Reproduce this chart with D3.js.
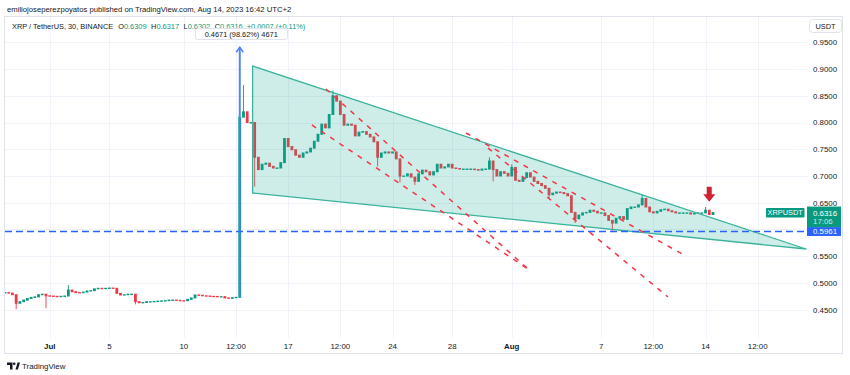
<!DOCTYPE html>
<html>
<head>
<meta charset="utf-8">
<script src="https://cdnjs.cloudflare.com/ajax/libs/d3/7.8.5/d3.min.js"></script>
<style>
body { margin: 0; background: #fff; }
svg { display: block; font-family: "Liberation Sans", Arial, sans-serif; }
</style>
</head>
<body>
<svg id="chart" width="850" height="375"></svg>
<script>
"use strict"

//
// Data read off the snapshot
//
var publishedLine = "emiliojoseperezpoyatos published on TradingView.com, Aug 14, 2023 16:42 UTC+2";
var legendTitle = "XRP / TetherUS, 30, BINANCE";
var legendKeys = ["O", "H", "L", "C"];
var legendValues = ["0.6309", "0.6317", "0.6302", "0.6316"];
var legendChange = "+0.0007 (+0.11%)";

var priceTicks = [0.45, 0.50, 0.55, 0.60, 0.65, 0.70, 0.75, 0.80, 0.85, 0.90, 0.95];
var timeTickDates = ["2023-07-01 00:00", "2023-07-05 00:00", "2023-07-10 00:00", "2023-07-13 12:00",
	"2023-07-17 00:00", "2023-07-20 12:00", "2023-07-24 00:00", "2023-07-28 00:00", "2023-08-01 00:00",
	"2023-08-07 00:00", "2023-08-10 12:00", "2023-08-14 00:00", "2023-08-17 12:00"];
var timeTickLabels = ["Jul", "5", "10", "12:00", "17", "12:00", "24", "28", "Aug", "7", "12:00", "14", "12:00"];
var monthLabels = ["Jul", "Aug"];

var xDomain = ["2023-06-28 00:00", "2023-08-20 21:00"];
var yDomain = [0.45, 0.95];

// XRPUSDT closes, one bar every 6 hours starting at firstBar
var firstBar = "2023-06-28 00:00";
var barHours = 6;
var closes = [
	0.482, 0.481, 0.478, 0.462,   0.465, 0.468, 0.471, 0.473,   0.474, 0.478, 0.479, 0.476,
	0.4756, 0.475, 0.4744, 0.475, 0.4756, 0.4868, 0.4837, 0.482, 0.4818, 0.483, 0.485, 0.4856,
	0.489, 0.490, 0.4895, 0.490,  0.4905, 0.490, 0.4806, 0.4775, 0.478, 0.479, 0.479, 0.465,
	0.463, 0.4635, 0.465, 0.465,  0.4655, 0.466, 0.4665, 0.467, 0.468, 0.468, 0.4675, 0.467,
	0.4669, 0.4694, 0.472, 0.4775, 0.477, 0.476, 0.4756, 0.475, 0.4748, 0.4744, 0.4744, 0.472,
	0.4713, 0.4725, 0.4732, 0.810,
	0.820, 0.800, 0.800, 0.735,   0.712, 0.722, 0.724, 0.718,   0.715, 0.715, 0.725, 0.770,
	0.755, 0.749, 0.739, 0.735,   0.743, 0.745, 0.752, 0.765,   0.778, 0.797, 0.790, 0.815,
	0.850, 0.840, 0.815, 0.795,   0.797, 0.795, 0.775, 0.782,   0.783, 0.778, 0.773, 0.764,
	0.735, 0.743, 0.745, 0.743,   0.745, 0.732, 0.700, 0.700,   0.704, 0.698, 0.690, 0.704,
	0.711, 0.708, 0.702, 0.708,   0.722, 0.715, 0.717, 0.722,   0.715, 0.714, 0.713, 0.713,
	0.713, 0.713, 0.712, 0.711,   0.713, 0.713, 0.728, 0.712,   0.700, 0.708, 0.705, 0.700,
	0.716, 0.692, 0.690, 0.697,   0.706, 0.698, 0.690, 0.686,   0.682, 0.677, 0.665, 0.668,
	0.670, 0.669, 0.667, 0.663,   0.632, 0.620, 0.627, 0.631,   0.632, 0.636, 0.634, 0.631,
	0.631, 0.626, 0.617, 0.612,   0.621, 0.624, 0.619, 0.639,   0.642, 0.642, 0.646, 0.658,
	0.642, 0.633, 0.631, 0.634,   0.637, 0.638, 0.635, 0.633,   0.631, 0.631, 0.631, 0.631,
	0.629, 0.630, 0.631, 0.631,   0.636, 0.628, 0.6316
];

// notable wick extremes
var wickDates = ["2023-06-28 18:00", "2023-06-30 18:00", "2023-07-02 06:00", "2023-07-06 18:00",
	"2023-07-13 18:00", "2023-07-14 00:00", "2023-07-14 18:00", "2023-07-20 00:00", "2023-07-23 00:00",
	"2023-07-24 12:00", "2023-07-25 12:00", "2023-07-30 12:00", "2023-07-30 18:00", "2023-08-01 00:00",
	"2023-08-03 12:00", "2023-08-05 06:00", "2023-08-07 18:00", "2023-08-09 18:00", "2023-08-14 00:00"];
var wickPrices = [0.451, 0.4526, 0.496, 0.460, 0.9407, 0.870, 0.680, 0.860, 0.718,
	0.688, 0.683, 0.735, 0.690, 0.722, 0.657, 0.612, 0.5955, 0.665, 0.642];

// falling wedge drawing
var wedgeDates = ["2023-07-14 14:40", "2023-07-14 14:40", "2023-08-20 17:50"];
var wedgePrices = [0.9057, 0.6682, 0.5635];

// red dashed trend lines
var trendStartDates = ["2023-07-18 14:10", "2023-07-19 12:45", "2023-07-28 22:20", "2023-07-30 09:40"];
var trendStartPrices = [0.7954, 0.8627, 0.7804, 0.7524];
var trendEndDates = ["2023-08-02 02:10", "2023-08-02 00:30", "2023-08-12 13:25", "2023-08-11 11:30"];
var trendEndPrices = [0.5261, 0.5280, 0.5523, 0.4738];

var supportPrice = 0.5961;
var measureDate = "2023-07-13 18:00";
var measureFrom = 0.4736;
var measureTo = 0.9407;
var measureText = "0.4671 (98.62%) 4671";
var arrowDate = "2023-08-14 06:00";
var arrowTop = 0.680;
var arrowTip = 0.652;
var symbolName = "XRPUSDT";
var lastPrice = 0.6316;
var countdown = "17:06";
var currency = "USDT";

//
// Colours
//
var UP = "#089981";
var DOWN = "#f23645";
var GRID = "#f0f3fa";
var BORDER = "#e0e3eb";
var TEXT = "#131722";
var BLUE = "#2962ff";

//
// Scales
//
var parseTime = d3.timeParse("%Y-%m-%d %H:%M");
var plotLeft = 5, plotRight = 808, plotTop = 17, plotBottom = 338;

var x = d3.scaleTime()
	.domain(xDomain.map(parseTime))
	.range([plotLeft, plotRight])
	;
var y = d3.scaleLinear()
	.domain(yDomain)
	.range([309.7, 42.3])
	;

var t0 = parseTime(firstBar);
var bars = closes.map(function(c, i) {
	var open = i == 0 ? c : closes[i - 1];
	return { t: d3.timeHour.offset(t0, i * barHours), o: open, c: c, hi: Math.max(open, c), lo: Math.min(open, c) };
});
wickDates.forEach(function(d, i) {
	var t = parseTime(d).getTime();
	var b = bars.find(function(bb) { return bb.t.getTime() == t; });
	if (!b) return;
	b.hi = Math.max(b.hi, wickPrices[i]);
	b.lo = Math.min(b.lo, wickPrices[i]);
});

var svg = d3.select("#chart");

svg.append("defs").append("clipPath").attr("id", "plotClip")
	.append("rect")
	.attr("x", plotLeft).attr("y", plotTop)
	.attr("width", plotRight - plotLeft).attr("height", plotBottom - plotTop)
	;

//
// Header
//
svg.append("text")
	.attr("x", 7).attr("y", 12)
	.attr("font-size", 7.7)
	.attr("fill", TEXT)
	.text(publishedLine)
	;

//
// Grid
//
var grid = svg.append("g");
grid.selectAll("line.h").data(priceTicks).enter().append("line")
	.attr("class", "h")
	.attr("x1", plotLeft).attr("x2", plotRight)
	.attr("y1", function(d) { return Math.round(y(d)) + 0.5; })
	.attr("y2", function(d) { return Math.round(y(d)) + 0.5; })
	.attr("stroke", GRID)
	;
grid.selectAll("line.v").data(timeTickDates).enter().append("line")
	.attr("class", "v")
	.attr("x1", function(d) { return Math.round(x(parseTime(d))) + 0.5; })
	.attr("x2", function(d) { return Math.round(x(parseTime(d))) + 0.5; })
	.attr("y1", plotTop).attr("y2", plotBottom)
	.attr("stroke", GRID)
	;

//
// Candles
//
var plot = svg.append("g").attr("clip-path", "url(#plotClip)");
var candle = plot.append("g").selectAll("g").data(bars).enter().append("g");
candle.append("line")
	.attr("x1", function(d) { return x(d.t); })
	.attr("x2", function(d) { return x(d.t); })
	.attr("y1", function(d) { return y(d.hi); })
	.attr("y2", function(d) { return y(d.lo); })
	.attr("stroke", function(d) { return d.c >= d.o ? UP : DOWN; })
	.attr("stroke-width", 0.9)
	;
candle.append("rect")
	.attr("x", function(d) { return x(d.t) - 1.4; })
	.attr("width", 2.8)
	.attr("y", function(d) { return y(Math.max(d.o, d.c)) - 0.5; })
	.attr("height", function(d) { return Math.max(1.4, Math.abs(y(d.o) - y(d.c)) + 1); })
	.attr("fill", function(d) { return d.c >= d.o ? UP : DOWN; })
	;

//
// Wedge
//
var wedge = wedgeDates.map(function(d, i) { return [x(parseTime(d)), y(wedgePrices[i])]; });
plot.append("path")
	.attr("d", d3.line()(wedge) + "Z")
	.attr("fill", "rgba(34,171,148,0.22)")
	.attr("stroke", "#3bb39c")
	.attr("stroke-width", 1.3)
	.attr("stroke-linejoin", "round")
	;

//
// Red dashed channel lines
//
plot.selectAll("line.trend").data(trendStartDates).enter().append("line")
	.attr("class", "trend")
	.attr("x1", function(d) { return x(parseTime(d)); })
	.attr("y1", function(d, i) { return y(trendStartPrices[i]); })
	.attr("x2", function(d, i) { return x(parseTime(trendEndDates[i])); })
	.attr("y2", function(d, i) { return y(trendEndPrices[i]); })
	.attr("stroke", DOWN)
	.attr("stroke-width", 1.5)
	.attr("stroke-dasharray", "5,6")
	;

//
// Horizontal support line
//
plot.append("line")
	.attr("x1", plotLeft).attr("x2", plotRight)
	.attr("y1", y(supportPrice)).attr("y2", y(supportPrice))
	.attr("stroke", BLUE)
	.attr("stroke-width", 1.5)
	.attr("stroke-dasharray", "7,4")
	;

//
// Measure arrow
//
var mx = x(parseTime(measureDate));
svg.append("line")
	.attr("x1", mx).attr("x2", mx)
	.attr("y1", y(measureFrom)).attr("y2", y(measureTo))
	.attr("stroke", "#4c82f7")
	.attr("stroke-opacity", 0.85)
	.attr("stroke-width", 2)
	;
svg.append("path")
	.attr("d", "M" + (mx - 3.5) + "," + (y(measureTo) + 5) + "L" + mx + "," + y(measureTo) + "L" + (mx + 3.5) + "," + (y(measureTo) + 5))
	.attr("fill", "none")
	.attr("stroke", "#4c82f7")
	.attr("stroke-width", 1.5)
	;

//
// Red down arrow
//
var ax = x(parseTime(arrowDate));
var aTop = y(arrowTop), aTip = y(arrowTip), aMid = aTop + (aTip - aTop) * 0.5;
svg.append("path")
	.attr("d", "M" + (ax - 2.5) + "," + aTop + "H" + (ax + 2.5) + "V" + aMid + "H" + (ax + 6) +
		"L" + ax + "," + aTip + "L" + (ax - 6) + "," + aMid + "H" + (ax - 2.5) + "Z")
	.attr("fill", "#d1232f")
	;

//
// Legend (drawn above the plot)
//
var legend = svg.append("text")
	.attr("x", 12).attr("y", 29)
	.attr("font-size", 7.4)
	.attr("fill", TEXT)
	;
legend.append("tspan").text(legendTitle);
legendKeys.forEach(function(k, i) {
	legend.append("tspan").attr("dx", i == 0 ? 5 : 4.5).text(k);
	legend.append("tspan").attr("fill", UP).text(legendValues[i]);
});
legend.append("tspan").attr("dx", 4).attr("fill", UP).text(legendChange);

svg.append("rect")
	.attr("x", 195.5).attr("y", 28.5)
	.attr("width", 92).attr("height", 11).attr("rx", 2)
	.attr("fill", "#fff")
	.attr("stroke", BORDER)
	;
svg.append("text")
	.attr("x", mx + 1.5).attr("y", 36.6)
	.attr("text-anchor", "middle")
	.attr("font-size", 7.4)
	.attr("fill", TEXT)
	.text(measureText)
	;

//
// Price axis (ticks hidden behind the price badges are skipped)
//
var ly = y(lastPrice);
var sy = y(supportPrice);
var shownTicks = priceTicks.filter(function(p) {
	var py = y(p);
	return !(py > ly - 9 && py < ly + 19) && Math.abs(py - sy) > 8;
});
svg.selectAll("text.price").data(shownTicks).enter().append("text")
	.attr("class", "price")
	.attr("x", 813).attr("y", function(d) { return y(d) + 2.8; })
	.attr("font-size", 7.9)
	.attr("fill", TEXT)
	.text(d3.format(".4f"))
	;

svg.append("rect")
	.attr("x", 766).attr("y", ly - 4.5)
	.attr("width", 38.5).attr("height", 9.5).attr("rx", 1)
	.attr("fill", UP)
	;
svg.append("text")
	.attr("x", 785.2).attr("y", ly + 2.6)
	.attr("text-anchor", "middle")
	.attr("font-size", 7.4)
	.attr("fill", "#fff")
	.text(symbolName)
	;
svg.append("rect")
	.attr("x", 807).attr("y", ly - 6)
	.attr("width", 34).attr("height", 21)
	.attr("fill", UP)
	;
svg.append("text")
	.attr("x", 813).attr("y", ly + 3)
	.attr("font-size", 7.9)
	.attr("fill", "#fff")
	.text(d3.format(".4f")(lastPrice))
	;
svg.append("text")
	.attr("x", 813).attr("y", ly + 11.5)
	.attr("font-size", 7.9)
	.attr("fill", "#fff")
	.attr("fill-opacity", 0.8)
	.text(countdown)
	;
svg.append("rect")
	.attr("x", 807).attr("y", sy - 4.4)
	.attr("width", 34).attr("height", 8.8)
	.attr("fill", BLUE)
	;
svg.append("text")
	.attr("x", 813).attr("y", sy + 2.8)
	.attr("font-size", 7.9)
	.attr("fill", "#fff")
	.text(d3.format(".4f")(supportPrice))
	;

svg.append("rect")
	.attr("x", 809.5).attr("y", 19.5)
	.attr("width", 32).attr("height", 13).attr("rx", 3)
	.attr("fill", "#fff")
	.attr("stroke", BORDER)
	;
svg.append("text")
	.attr("x", 825.5).attr("y", 28.8)
	.attr("text-anchor", "middle")
	.attr("font-size", 7.4)
	.attr("fill", TEXT)
	.text(currency)
	;

//
// Time axis
//
svg.selectAll("text.time").data(timeTickDates).enter().append("text")
	.attr("class", "time")
	.attr("x", function(d) { return x(parseTime(d)); })
	.attr("y", 348.5)
	.attr("text-anchor", "middle")
	.attr("font-size", 7.9)
	.attr("font-weight", function(d, i) { return monthLabels.indexOf(timeTickLabels[i]) >= 0 ? "bold" : "normal"; })
	.attr("fill", TEXT)
	.text(function(d, i) { return timeTickLabels[i]; })
	;

// pane frame
svg.append("rect")
	.attr("x", 4.5).attr("y", 16.5)
	.attr("width", 838).attr("height", 337)
	.attr("fill", "none")
	.attr("stroke", BORDER)
	;

//
// Logo
//
var logo = svg.append("g").attr("fill", TEXT);
logo.append("path").attr("d", "M7,362.5H12.5V369.5H10V365H7Z");
logo.append("circle").attr("cx", 14.2).attr("cy", 363.8).attr("r", 1.3);
logo.append("path").attr("d", "M15.5,369.5L17.6,362.5H20L17.9,369.5Z");
svg.append("text")
	.attr("x", 22).attr("y", 369)
	.attr("font-size", 7.9)
	.attr("fill", TEXT)
	.text("TradingView")
	;
</script>
</body>
</html>
